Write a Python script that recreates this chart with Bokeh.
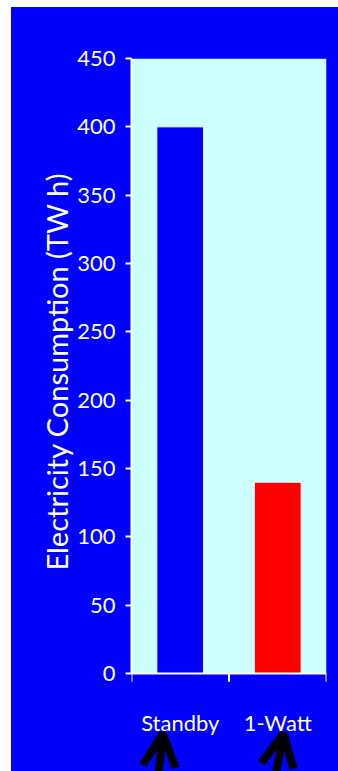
from bokeh.plotting import figure
from bokeh.models import Range1d, FixedTicker, Arrow, OpenHead, Spacer, ColumnDataSource, Title
from bokeh.core.properties import value
from bokeh.layouts import column, row
from bokeh.embed import file_html
from bokeh.resources import INLINE

# Data
categories = ["Standby", "1-Watt"]
consumption_twh = [400, 140]
bar_colors = ["#0000FF", "#FF0000"]
y_ticks = [0, 50, 100, 150, 200, 250, 300, 350, 400, 450]
y_max = 450
y_title = "Electricity Consumption (TW h)"

FONT = "Lato"
WHITE = "#FFFFFF"
BLUE_BG = "#0000FF"
PLOT_BG = "#CCFFFF"

# the frame runs down to the page bottom so the pointer arrows are not clipped;
# the light plotting area itself only covers 0..y_max
y_floor = -71.7
tick_len = 6.0          # boundary tick length, in value units
name_y = -36.0          # centre of the category names, in value units

n = len(categories)
positions = [i + 0.5 for i in range(n)]
boundaries = list(range(n + 1))

source = ColumnDataSource(dict(x=positions, top=consumption_twh, color=bar_colors, name=categories))

p = figure(
    width=327, height=764,
    x_range=Range1d(0, n), y_range=Range1d(y_floor, y_max),
    x_axis_type=None,
    output_backend="svg", toolbar_location=None,
    background_fill_color=BLUE_BG, border_fill_color=BLUE_BG,
    outline_line_color=None,
    min_border_left=120, min_border_right=12, min_border_top=51, min_border_bottom=0,
)
p.styles = {"background-color": BLUE_BG}

# light plotting area
p.quad(left=0, right=n, bottom=0, top=y_max, fill_color=PLOT_BG, line_color=None)

# bars
p.vbar(x="x", top="top", width=0.48, bottom=0, fill_color="color",
       line_color=WHITE, line_width=1, source=source)

# vertical axis
ya = p.yaxis[0]
ya.bounds = (0, y_max)
ya.ticker = FixedTicker(ticks=y_ticks)
ya.major_label_text_font = FONT
ya.major_label_text_font_size = "22px"
ya.major_label_text_color = WHITE
ya.major_label_standoff = 10
ya.axis_line_color = WHITE
ya.axis_line_width = 2
ya.major_tick_line_color = WHITE
ya.major_tick_line_width = 2
ya.major_tick_out = 6
ya.major_tick_in = 0
ya.minor_tick_line_color = None
p.ygrid.grid_line_color = None

# vertical axis title, centred on the 0..y_max span rather than the whole frame
p.add_layout(Title(text=y_title, align="right", offset=114, standoff=2,
                   text_font=FONT, text_font_size="29px", text_font_style="normal",
                   text_color=WHITE), "left")

# horizontal base line with ticks on the category boundaries
p.segment(x0=0, y0=0, x1=n, y1=0, line_color=WHITE, line_width=2)
p.segment(x0=boundaries, y0=[0] * len(boundaries), x1=boundaries, y1=[-tick_len] * len(boundaries),
          line_color=WHITE, line_width=2)

# category names
p.text(x=positions, y=[name_y] * n, text=categories,
       text_align="center", text_baseline="middle",
       text_font=value(FONT), text_font_size="22px", text_color=WHITE)

# black pointer arrows rising towards each category name
arrow_tip_dx = [-0.18, 0.06]
arrow_tail_dx = [-0.27, -0.11]
arrow_tip_y = -44
arrow_tail_y = -108
for pos, tip_dx, tail_dx in zip(positions, arrow_tip_dx, arrow_tail_dx):
    p.add_layout(Arrow(
        end=OpenHead(size=33, line_width=8, line_color="black"),
        x_start=pos + tail_dx, y_start=arrow_tail_y,
        x_end=pos + tip_dx, y_end=arrow_tip_y,
        line_width=8, line_color="black",
    ))

layout = column(Spacer(height=7), row(Spacer(width=11), p), spacing=0)

with open("out.html", "w") as f:
    f.write(file_html(layout, INLINE))
